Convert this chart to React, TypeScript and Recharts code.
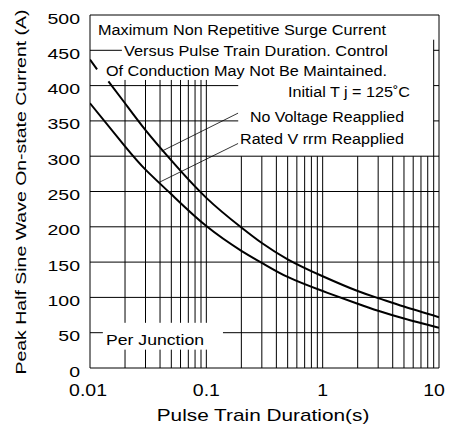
import React from 'react';
import { LineChart, Line, XAxis, YAxis, ReferenceLine, Customized } from 'recharts';

// pulse train duration (s) and peak half sine wave on-state current (A)
const duration = [0.01, 0.0115, 0.0125, 0.0144, 0.02, 0.03, 0.05, 0.1, 0.2, 0.3, 0.5, 1, 2, 3, 5, 10];
// upper curve is hidden behind the text block around 0.0125
const noVoltage = [437, 423, null, 406, 375, 337, 294, 241, 199, 177, 154, 130, 109, 99, 87, 72];
const ratedVrrm = [375, null, null, null, 314, 281, 246, 201, 166, 149, 129, 109, 91, 81, 70, 57];

const xTicks = [0.01, 0.1, 1, 10];
const yTicks = [0, 50, 100, 150, 200, 250, 300, 350, 400, 450, 500];
const minorLeft = [0.02, 0.03, 0.04, 0.05, 0.06, 0.07, 0.08, 0.09, 0.1];
const minorRight = [0.2, 0.3, 0.4, 0.5, 0.6, 0.7, 0.8, 0.9, 1, 2, 3, 4, 5, 6, 7, 8];
const fullRows = [100, 150, 200, 250, 300];

const data = duration.map((t, i) => ({ t, nv: noVoltage[i], rv: ratedVrrm[i] }));

const FONT = '"Liberation Sans", Arial, sans-serif';
const INK = '#000';

const seg = (x1: number, y1: number, x2: number, y2: number, key: string, w = 1) => (
    <ReferenceLine
        key={key}
        segment={[{ x: x1, y: y1 }, { x: x2, y: y2 }]}
        stroke={INK}
        strokeWidth={w}
        ifOverflow="visible"
    />
);

// eslint-disable-next-line @typescript-eslint/no-explicit-any
const YTick = (props: any) => {
    const { y, payload } = props;
    return (
        <text transform={`translate(80,${y + 8.5}) scale(1.3,1)`} textAnchor="end" fontSize={15} fontFamily={FONT} fill={INK}>
            {payload.value}
        </text>
    );
};

// eslint-disable-next-line @typescript-eslint/no-explicit-any
const XTick = (props: any) => {
    const { x, payload } = props;
    const dx = payload.value === 10 ? -5 : payload.value === 0.01 ? -2 : 0;
    return (
        <text transform={`translate(${x + dx},396) scale(1.22,1)`} textAnchor="middle" fontSize={16} fontFamily={FONT} fill={INK}>
            {payload.value}
        </text>
    );
};

const notes = [
    { text: 'Maximum Non Repetitive Surge Current', x: 98, y: 35, w: 288 },
    { text: 'Versus Pulse Train Duration. Control', x: 124, y: 56, w: 264 },
    { text: 'Of Conduction May Not Be Maintained.', x: 106, y: 76, w: 281 },
    { text: 'Initial T j = 125˚C', x: 288, y: 97, w: 122 },
    { text: 'No Voltage Reapplied', x: 250, y: 122, w: 154 },
    { text: 'Rated V rrm Reapplied', x: 240, y: 144, w: 164 },
    { text: 'Per Junction', x: 106, y: 345, w: 98 },
];

const Texts = () => (
    <g fontFamily={FONT} fill={INK}>
        {notes.map((n) => (
            <text key={n.text} x={n.x} y={n.y} fontSize={14} textLength={n.w} lengthAdjust="spacingAndGlyphs">
                {n.text}
            </text>
        ))}
        <text transform="translate(263,421) scale(1.3,1)" textAnchor="middle" fontSize={16}>
            Pulse Train Duration(s)
        </text>
        <text transform="translate(26,192) rotate(-90) scale(1.3,1)" textAnchor="middle" fontSize={15}>
            Peak Half Sine Wave On-state Current (A)
        </text>
    </g>
);

export default function App() {
    return (
        <div style={{ position: 'absolute', left: 0, top: 0, background: '#fff' }}>
            <LineChart width={456} height={430} data={data} margin={{ top: 15, right: 17, left: 0, bottom: 12 }}>
                <XAxis
                    dataKey="t"
                    type="number"
                    scale="log"
                    domain={[0.01, 10]}
                    allowDataOverflow
                    ticks={xTicks}
                    interval={0}
                    tickLine={false}
                    axisLine={{ stroke: INK }}
                    tick={XTick}
                    height={50}
                />
                <YAxis
                    type="number"
                    domain={[0, 500]}
                    ticks={yTicks}
                    interval={0}
                    tickLine={false}
                    axisLine={{ stroke: INK }}
                    tick={YTick}
                    width={90}
                />

                {/* vertical grid, broken where the text boxes sit */}
                {minorLeft.map((v) => seg(v, 0, v, 26, `vl-a-${v}`))}
                {minorLeft.map((v) => seg(v, 64, v, 408, `vl-b-${v}`))}
                {minorRight.map((v) => seg(v, 0, v, 300, `vr-${v}`))}
                {seg(9, 0, 9, 465, 'v9')}

                {/* horizontal grid */}
                {fullRows.map((v) => seg(0.01, v, 10, v, `h-${v}`))}
                {seg(0.01, 50, 0.0129, 50, 'h50a')}
                {seg(0.139, 50, 10, 50, 'h50b')}
                {[350, 400].map((v) => seg(0.01, v, 0.188, v, `hl-${v}`))}
                {seg(0.01, 450, 0.0188, 450, 'hl-450')}
                {[350, 400, 450].map((v) => seg(9, v, 10, v, `hr-${v}`))}

                {/* frame */}
                {seg(0.01, 500, 10, 500, 'top')}
                {seg(10, 0, 10, 500, 'right')}

                {/* leaders */}
                {seg(0.1874, 361, 0.0413, 307, 'lead-nv', 0.8)}
                {seg(0.1874, 318, 0.0394, 263, 'lead-rv', 0.8)}

                <Line dataKey="nv" type="natural" stroke={INK} strokeWidth={2} dot={false} isAnimationActive={false} connectNulls={false} />
                <Line dataKey="rv" type="natural" stroke={INK} strokeWidth={2} dot={false} isAnimationActive={false} connectNulls />
                <Customized component={<Texts />} />
            </LineChart>
        </div>
    );
}
